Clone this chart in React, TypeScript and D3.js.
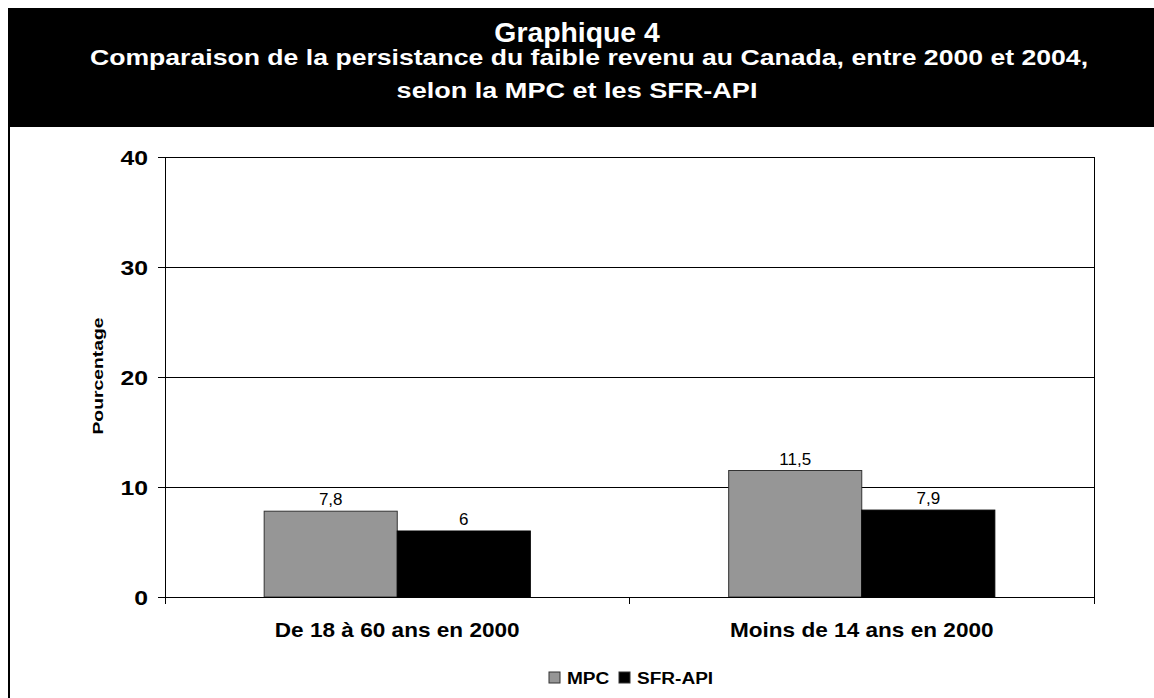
import React, { useEffect, useRef } from "react";
import * as d3 from "d3";

const categories = ["De 18 à 60 ans en 2000", "Moins de 14 ans en 2000"];
const seriesNames = ["MPC", "SFR-API"];
const mpcValues = [7.8, 11.5];
const sfrValues = [6, 7.9];
const valueLabels = [["7,8", "6"], ["11,5", "7,9"]];
const yTicks = [0, 10, 20, 30, 40];
const colors = ["#969696", "#000000"];

const W = 1154;
const H = 698;
const FONT = "Arial, 'Liberation Sans', Helvetica, sans-serif";

type Sel = d3.Selection<any, any, any, any>;

function wideText(
  parent: Sel, x: number, y: number, text: string, size: number, sx: number,
  anchor: string, fill = "#000", rotate = 0
) {
  const g = parent.append("g").attr("transform", `translate(${x},${y}) rotate(${rotate}) scale(${sx},1)`);
  g.append("text").attr("x", 0).attr("y", 0).attr("text-anchor", anchor)
    .attr("font-family", FONT).attr("font-weight", "bold").attr("font-size", size).attr("fill", fill)
    .text(text);
  return g;
}

export default function App() {
  const ref = useRef<SVGSVGElement | null>(null);

  useEffect(() => {
    const svg = d3.select(ref.current);
    svg.selectAll("*").remove();

    const left = 165, right = 1094, top = 157, bottom = 597;
    const x = d3.scaleBand<string>().domain(categories).range([left, right]).paddingInner(0).paddingOuter(0);
    const y = d3.scaleLinear().domain([0, 40]).range([bottom, top]);
    const groupFrac = 0.573;
    const x1 = d3.scaleBand<string>().domain(seriesNames).range([0, x.bandwidth() * groupFrac]).padding(0);

    // Outer frame
    svg.append("rect").attr("x", 8).attr("y", 8).attr("width", W - 8).attr("height", 119).attr("fill", "#000");
    svg.append("line").attr("x1", 9).attr("x2", 9).attr("y1", 8).attr("y2", H).attr("stroke", "#000").attr("stroke-width", 2);

    // Titles
    wideText(svg, 577, 42, "Graphique 4", 27, 1.05, "middle", "#fff");
    wideText(svg, 589, 65, "Comparaison de la persistance du faible revenu au Canada, entre 2000 et 2004,", 22, 1.21, "middle", "#fff");
    wideText(svg, 577, 98, "selon la MPC et les SFR-API", 22, 1.23, "middle", "#fff");

    // Gridlines
    svg.append("g").selectAll("line").data(yTicks.filter((d) => d > 0)).join("line")
      .attr("x1", left).attr("x2", right).attr("y1", (d) => y(d)).attr("y2", (d) => y(d))
      .attr("stroke", "#000").attr("stroke-width", 1).attr("shape-rendering", "crispEdges");

    // Bars
    const data = categories.map((c, i) => ({ c, vals: [mpcValues[i], sfrValues[i]], labels: valueLabels[i] }));
    const groups = svg.append("g").selectAll("g").data(data).join("g")
      .attr("transform", (d) => `translate(${x(d.c)! + x.bandwidth() * (1 - groupFrac) / 2},0)`);
    groups.selectAll("rect").data((d) => d.vals.map((v, j) => ({ v, j }))).join("rect")
      .attr("x", (d) => x1(seriesNames[d.j])!)
      .attr("y", (d) => y(d.v))
      .attr("width", x1.bandwidth())
      .attr("height", (d) => y(0) - y(d.v))
      .attr("fill", (d) => colors[d.j])
      .attr("stroke", (d) => (d.j === 0 ? "#333" : "#000"))
      .attr("stroke-width", 1);
    groups.selectAll("text").data((d) => d.vals.map((v, j) => ({ v, j, l: d.labels[j] }))).join("text")
      .attr("x", (d) => x1(seriesNames[d.j])! + x1.bandwidth() / 2)
      .attr("y", (d) => y(d.v) - 6)
      .attr("text-anchor", "middle").attr("font-family", FONT).attr("font-size", 17).attr("fill", "#000")
      .text((d) => d.l);

    // Axes lines
    const ax = svg.append("g").attr("stroke", "#000").attr("stroke-width", 1).attr("shape-rendering", "crispEdges");
    ax.append("line").attr("x1", left).attr("x2", left).attr("y1", top).attr("y2", bottom + 7);
    ax.append("line").attr("x1", right).attr("x2", right).attr("y1", top).attr("y2", bottom + 7);
    ax.append("line").attr("x1", left).attr("x2", right).attr("y1", bottom).attr("y2", bottom);
    ax.selectAll("line.yt").data(yTicks).join("line").attr("class", "yt")
      .attr("x1", left - 7).attr("x2", left).attr("y1", (d) => y(d)).attr("y2", (d) => y(d));
    ax.append("line").attr("x1", x(categories[1])!).attr("x2", x(categories[1])!).attr("y1", bottom).attr("y2", bottom + 7);

    // Y tick labels
    const yl = svg.append("g");
    yTicks.forEach((t) => wideText(yl, 148, y(t) + 8, String(t), 21, 1.18, "end"));

    // Category labels
    const cl = svg.append("g");
    categories.forEach((c) => wideText(cl, x(c)! + x.bandwidth() / 2, 637, c, 20, 1.13, "middle"));

    // Y axis title
    wideText(svg, 103, 376, "Pourcentage", 15, 1.29, "middle", "#000", -90);

    // Legend
    const lg = svg.append("g");
    const legendX = [549, 619];
    seriesNames.forEach((s, i) => {
      lg.append("rect").attr("x", legendX[i]).attr("y", 672).attr("width", 11).attr("height", 11)
        .attr("fill", colors[i]).attr("stroke", "#333").attr("stroke-width", 1);
      wideText(lg, legendX[i] + 18, 684, s, 16, 1.19, "start");
    });
  }, []);

  return (
    <svg ref={ref} width={W} height={H} style={{ position: "absolute", left: 0, top: 0, background: "#fff" }} />
  );
}
